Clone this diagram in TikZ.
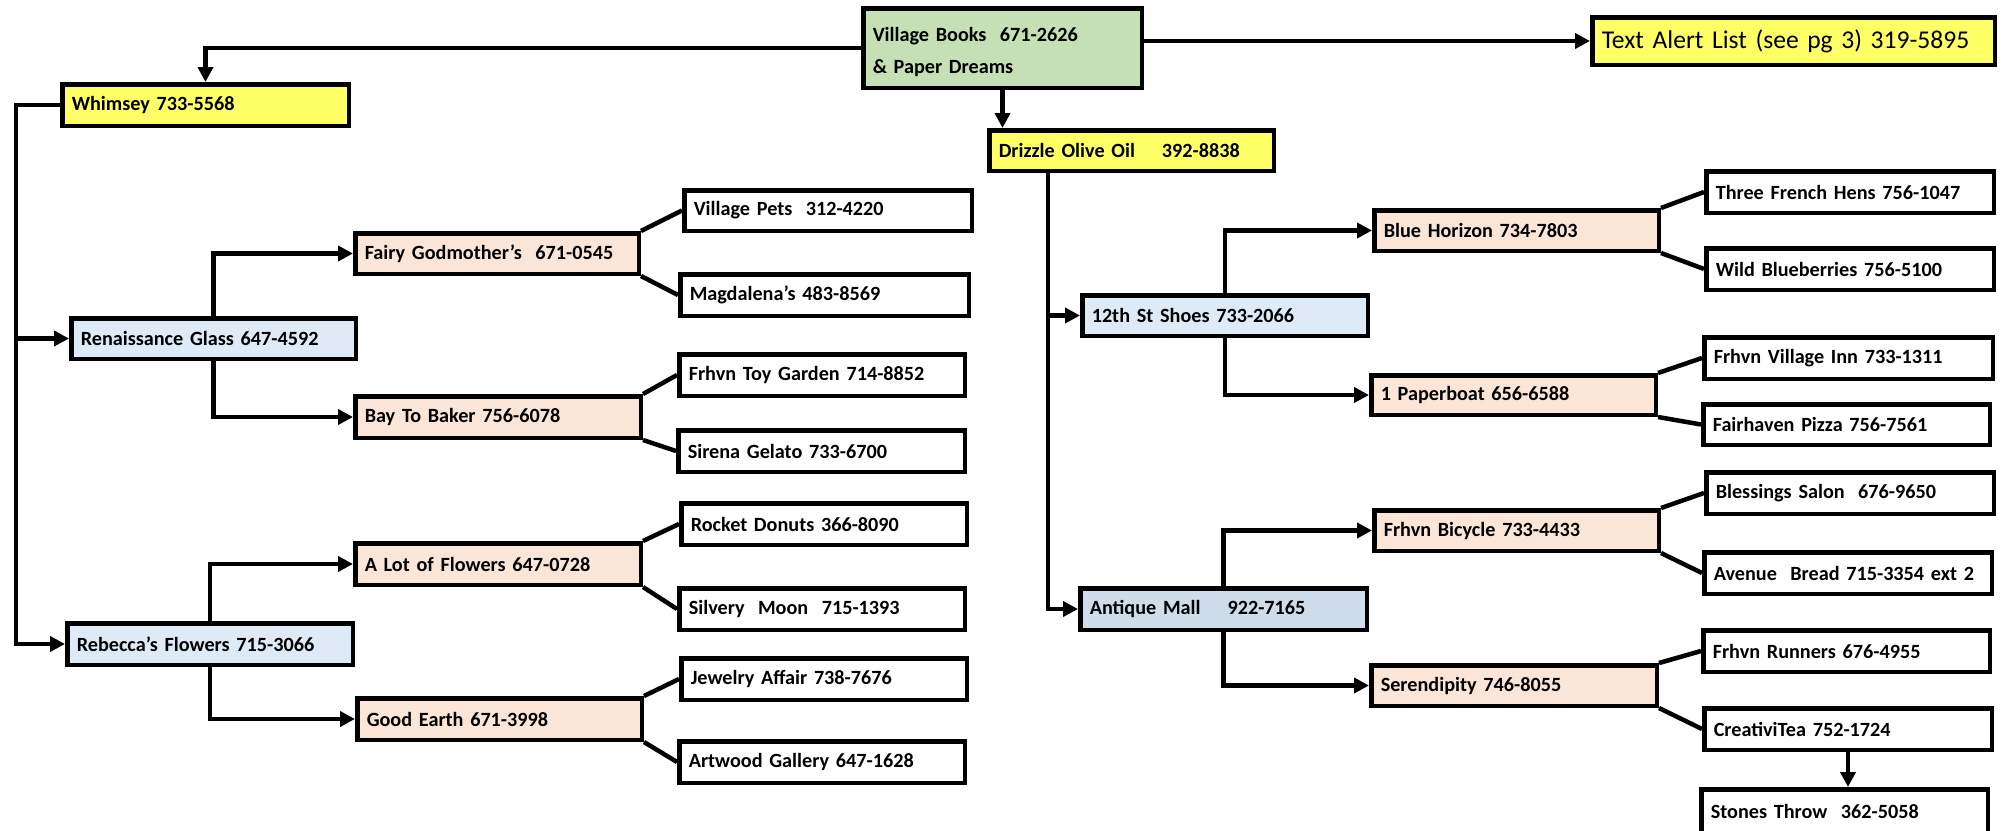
\documentclass[tikz,border=0pt]{standalone}
\usepackage{fontspec}
\setmainfont{Carlito}
\usetikzlibrary{arrows.meta,calc}
\definecolor{cyel}{HTML}{FFFF66}
\definecolor{cgrn}{HTML}{C5E0B4}
\definecolor{cpch}{HTML}{FBE5D6}
\definecolor{cblu}{HTML}{DEEBF7}
\definecolor{cant}{HTML}{CFDDEA}
\tikzset{
  boxstyle/.style={draw=black, line width=4.5pt, inner xsep=9.5pt, inner ysep=2pt, align=left,
    font=\fontsize{20.2}{24}\selectfont\bfseries},
  conn/.style={line width=4.5pt},
  arr/.style={conn, -{Triangle[width=15pt,length=15pt]}},
}
\newcommand\mkbox[7]{%
  \pgfmathsetmacro\mkbw{#4-#2-4.5}%
  \pgfmathsetmacro\mkbh{#5-#3-4.5}%
  \pgfmathsetmacro\mktw{#4-#2-4.5-19}%
  \node[boxstyle,#6,minimum width=\mkbw pt,minimum height=\mkbh pt,text width=\mktw pt] (#1) at ({(#2+#4)/2},{(#3+#5)/2}) {#7};}
\begin{document}
\begin{tikzpicture}[x=1pt,y=-1pt]
\useasboundingbox (0,0) rectangle (2001,830);
\fill[white] (0,0) rectangle (2001,830);
% top level
\mkbox{vb}{861}{6}{1144}{90}{fill=cgrn}{\mbox{\rule{0pt}{23pt}Village Books\ \ 671-2626}\\[8pt]\mbox{\& Paper Dreams}}
\mkbox{ta}{1590}{15}{1997}{67}{fill=cyel,font=\fontsize{25.6}{30}\selectfont}{\mbox{Text Alert List (see pg 3) 319-5895}}
\mkbox{wh}{60}{82}{351}{128}{fill=cyel}{\mbox{Whimsey 733-5568}}
\mkbox{dr}{987}{128}{1276}{173}{fill=cyel}{\mbox{Drizzle Olive Oil\ \ \ \ 392-8838}}
% left branch
\mkbox{rg}{69}{316}{358}{361}{fill=cblu}{\mbox{Renaissance Glass 647-4592}}
\mkbox{fg}{353}{231}{641}{276}{fill=cpch}{\mbox{Fairy Godmother’s\ \ 671-0545}}
\mkbox{vp}{682}{188}{974}{233}{fill=white}{\mbox{Village Pets\ \ 312-4220}}
\mkbox{mg}{678}{272}{971}{318}{fill=white}{\mbox{Magdalena’s 483-8569}}
\mkbox{bb}{353}{394}{643}{440}{fill=cpch}{\mbox{Bay To Baker 756-6078}}
\mkbox{tg}{677}{352}{967}{398}{fill=white}{\mbox{Frhvn Toy Garden 714-8852}}
\mkbox{sg}{676}{428}{967}{474}{fill=white}{\mbox{Sirena Gelato 733-6700}}
\mkbox{rf}{65}{621}{355}{667}{fill=cblu}{\mbox{Rebecca’s Flowers 715-3066}}
\mkbox{al}{353}{541}{643}{587}{fill=cpch}{\mbox{A Lot of Flowers 647-0728}}
\mkbox{rd}{679}{501}{969}{547}{fill=white}{\mbox{Rocket Donuts 366-8090}}
\mkbox{sm}{677}{586}{967}{632}{fill=white}{\mbox{Silvery\ \ Moon\ \ 715-1393}}
\mkbox{ge}{355}{696}{644}{742}{fill=cpch}{\mbox{Good Earth 671-3998}}
\mkbox{ja}{679}{656}{969}{702}{fill=white}{\mbox{Jewelry Affair 738-7676}}
\mkbox{ag}{677}{739}{967}{785}{fill=white}{\mbox{Artwood Gallery 647-1628}}
% right branch
\mkbox{st}{1080}{293}{1370}{338}{fill=cblu}{\mbox{12th St Shoes 733-2066}}
\mkbox{bh}{1372}{208}{1661}{253}{fill=cpch}{\mbox{Blue Horizon 734-7803}}
\mkbox{tf}{1704}{169}{1996}{215}{fill=white}{\mbox{Three French Hens 756-1047}}
\mkbox{wb}{1704}{246}{1996}{292}{fill=white}{\mbox{Wild Blueberries 756-5100}}
\mkbox{pb}{1369}{373}{1658}{417}{fill=cpch}{\mbox{1 Paperboat 656-6588}}
\mkbox{vi}{1702}{335}{1995}{381}{fill=white}{\mbox{Frhvn Village Inn 733-1311}}
\mkbox{fp}{1701}{402}{1992}{447}{fill=white}{\mbox{Fairhaven Pizza 756-7561}}
\mkbox{am}{1078}{586}{1369}{632}{fill=cant}{\mbox{Antique Mall\ \ \ \ 922-7165}}
\mkbox{fb}{1372}{508}{1661}{553}{fill=cpch}{\mbox{Frhvn Bicycle 733-4433}}
\mkbox{bs}{1704}{470}{1996}{516}{fill=white}{\mbox{Blessings Salon\ \ 676-9650}}
\mkbox{ab}{1702}{550}{1994}{596}{fill=white}{\mbox{Avenue\ \ Bread 715-3354 ext 2}}
\mkbox{sd}{1369}{663}{1659}{708}{fill=cpch}{\mbox{Serendipity 746-8055}}
\mkbox{fr}{1701}{628}{1992}{674}{fill=white}{\mbox{Frhvn Runners 676-4955}}
\mkbox{ct}{1702}{706}{1994}{752}{fill=white}{\mbox{CreativiTea 752-1724}}
\mkbox{stn}{1699}{787}{1990}{836}{fill=white}{\mbox{Stones Throw\ \ 362-5058}}
% connectors
\draw[arr] (vb.west) -| (wh.north);
\draw[arr] (ta.west -| vb.east) -- (ta.west);
\draw[arr] (vb.south) -- (vb.south |- dr.north);
\coordinate (wl) at ($(wh.west)+(-44,0)$);
\draw[arr] (wh.west) -- (wl) |- (rf.west);
\draw[arr] (wl |- rg.west) -- (rg.west);
\draw[arr] (rg.north) |- (fg.west);
\draw[arr] (rg.south) |- (bb.west);
\draw[arr] (rf.north) |- (al.west);
\draw[arr] (rf.south) |- (ge.west);
\coordinate (dl) at ($(dr.south west)+(61,0)$);
\draw[arr] (dl) |- (am.west);
\draw[arr] (dl |- st.west) -- (st.west);
\draw[arr] (st.north) |- (bh.west);
\draw[arr] (st.south) |- (pb.west);
\draw[arr] (am.north) |- (fb.west);
\draw[arr] (am.south) |- (sd.west);
\draw[arr] (ct.south) -- (ct.south |- stn.north);
% diagonal links
\foreach \p/\a/\b in {fg/vp/mg, bb/tg/sg, al/rd/sm, ge/ja/ag, bh/tf/wb, pb/vi/fp, fb/bs/ab, sd/fr/ct}{
  \draw[conn] (\p.north east) -- (\a.west);
  \draw[conn] (\p.south east) -- (\b.west);
}
\end{tikzpicture}
\end{document}
